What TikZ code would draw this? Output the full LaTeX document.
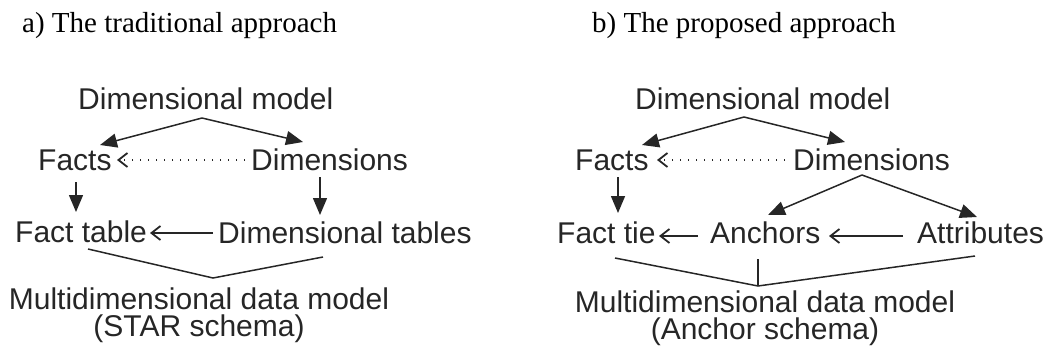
\documentclass[tikz,border=0pt]{standalone}
\usepackage{fontspec}
\setmainfont{Liberation Sans}
\newfontfamily\hdrfont{Liberation Serif}
\usetikzlibrary{arrows.meta}
\definecolor{ink}{HTML}{262626}
\begin{document}
\begin{tikzpicture}[x=1pt,y=-1pt,
  lbl/.style={anchor=base west,inner sep=0pt,text=ink,font=\fontsize{30}{36}\selectfont},
  twoline/.style={anchor=north,inner sep=0pt,text=ink,align=center,font=\fontsize{30}{27}\selectfont},
  hdr/.style={anchor=base west,inner sep=0pt,text=black,font=\hdrfont\fontsize{29}{34}\selectfont},
  conn/.style={draw=ink,line width=1.5pt},
  fillarrow/.style={conn,-{Triangle[length=17pt,width=14pt]}},
  openarrow/.style={conn,-{Straight Barb[length=9pt,width=14pt,line width=1.8pt]}},
  dotarrow/.style={conn,line width=1.3pt,dash pattern=on 1.5pt off 6.5pt,-{Straight Barb[length=9pt,width=14pt,line width=1.8pt,sep=0pt]}}]
\useasboundingbox (0,0) rectangle (1046,356);
% ---------- a) traditional ----------
\node[hdr] (hdrA) at (22,32) {a) The traditional approach};
\node[lbl] (dmA) at (78,109) {Dimensional model};
\node[lbl] (factsA) at (38,170) {Facts};
\node[lbl] (dimsA) at (251,170) {Dimensions};
\node[lbl] (ftA) at (15,242) {Fact table};
\node[lbl] (dtA) at (218,243) {Dimensional tables};
\node[twoline] (mdA) at (199,288) {Multidimensional data model\\(STAR schema)};
\coordinate (dmAs) at (202,118);
\coordinate (factsAin) at (100,145);
\coordinate (dimsAin) at (303,142);
\coordinate (dimsAw) at (245,160);
\coordinate (factsAe) at (117,160);
\coordinate (factsAs) at (76,182);
\coordinate (ftAn) at (76,212);
\coordinate (dimsAs) at (320,177);
\coordinate (dtAn) at (320,215);
\coordinate (dtAw) at (213,233);
\coordinate (ftAe) at (150,233);
\coordinate (ftAs) at (88,249);
\coordinate (mdAn) at (213,278);
\coordinate (dtAs) at (323,257);
\draw[fillarrow] (dmAs) -- (factsAin);
\draw[fillarrow] (dmAs) -- (dimsAin);
\draw[dotarrow] (dimsAw) -- (factsAe);
\draw[fillarrow] (factsAs) -- (ftAn);
\draw[fillarrow] (dimsAs) -- (dtAn);
\draw[openarrow] (dtAw) -- (ftAe);
\draw[conn] (ftAs) -- (mdAn) -- (dtAs);
% ---------- b) proposed ----------
\node[hdr] (hdrB) at (592,32) {b) The proposed approach};
\node[lbl] (dmB) at (635,109) {Dimensional model};
\node[lbl] (factsB) at (575,170) {Facts};
\node[lbl] (dimsB) at (793,170) {Dimensions};
\node[lbl] (ftB) at (557,243) {Fact tie};
\node[lbl] (ancB) at (710,243) {Anchors};
\node[lbl] (attB) at (917,243) {Attributes};
\node[twoline] (mdB) at (765,291) {Multidimensional data model\\(Anchor schema)};
\coordinate (dmBs) at (744,117);
\coordinate (factsBin) at (642,145);
\coordinate (dimsBin) at (845,142);
\coordinate (dimsBw) at (785,160);
\coordinate (factsBe) at (657,160);
\coordinate (factsBs) at (618,177);
\coordinate (ftBn) at (618,213);
\coordinate (dimsBs) at (862,175);
\coordinate (ancBn) at (768,215);
\coordinate (attBn) at (977,217);
\coordinate (ancBw) at (698,236);
\coordinate (ftBe) at (659,236);
\coordinate (attBw) at (903,236);
\coordinate (ancBe) at (829,236);
\coordinate (ftBs) at (615,258);
\coordinate (mdBn) at (758,286);
\coordinate (ancBs) at (758,259);
\coordinate (attBs) at (975,256);
\draw[fillarrow] (dmBs) -- (factsBin);
\draw[fillarrow] (dmBs) -- (dimsBin);
\draw[dotarrow] (dimsBw) -- (factsBe);
\draw[fillarrow] (factsBs) -- (ftBn);
\draw[fillarrow] (dimsBs) -- (ancBn);
\draw[fillarrow] (dimsBs) -- (attBn);
\draw[openarrow] (ancBw) -- (ftBe);
\draw[openarrow] (attBw) -- (ancBe);
\draw[conn] (ftBs) -- (mdBn) -- (attBs);
\draw[conn] (ancBs) -- (mdBn);
\end{tikzpicture}
\end{document}
